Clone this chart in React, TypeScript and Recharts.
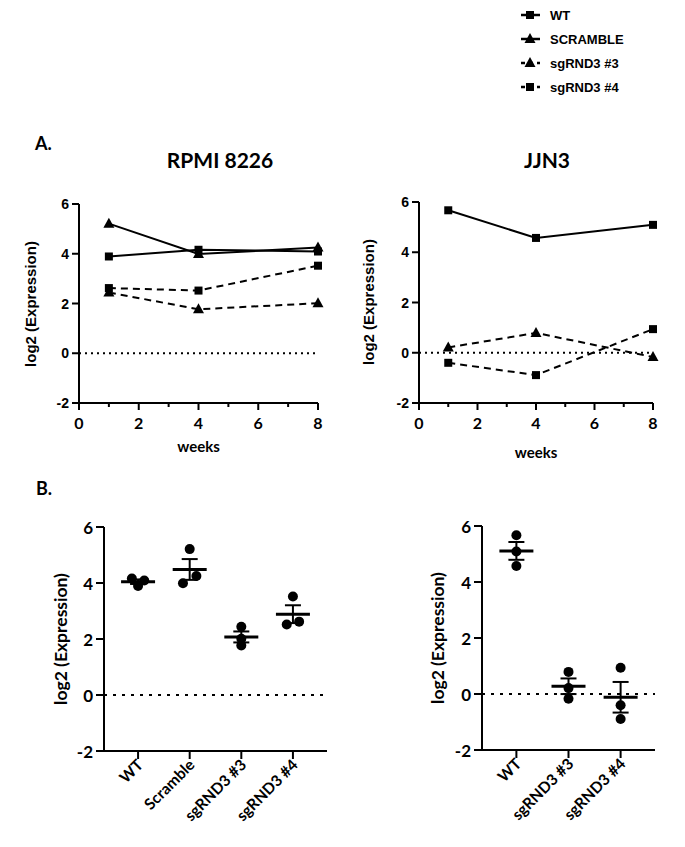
import React from "react"
import { LineChart, Line, XAxis, YAxis, ReferenceLine, ScatterChart, Scatter, ErrorBar } from "recharts"

const WEEKS = [1, 4, 8]
const RPMI_WT = [3.89, 4.16, 4.09]
const RPMI_SCRAMBLE = [5.21, 3.99, 4.25]
const RPMI_SG3 = [2.44, 1.77, 2.01]
const RPMI_SG4 = [2.62, 2.52, 3.52]
const JJN3_WT = [5.67, 4.57, 5.09]
const JJN3_SG3 = [0.21, 0.79, -0.17]
const JJN3_SG4 = [-0.4, -0.89, 0.94]

const Y_TICKS = [-2, 0, 2, 4, 6]
const WEEK_TICKS = [0, 1, 2, 3, 4, 5, 6, 7, 8]
const RPMI_GROUPS = ["WT", "Scramble", "sgRND3 #3", "sgRND3 #4"]
const JJN3_GROUPS = ["WT", "sgRND3 #3", "sgRND3 #4"]
const LEGEND_NAMES = ["WT", "SCRAMBLE", "sgRND3 #3", "sgRND3 #4"]

// horizontal spread of the replicate dots (in category units), layout only
const RPMI_JITTER = [[0, -0.12, 0.12], [0, -0.13, 0.13], [0, 0, 0], [0.12, -0.12, 0]]
const JJN3_JITTER = [[0, 0, 0], [0, 0, 0], [0, 0, 0]]

const ARIAL = "'Liberation Sans', Arial, sans-serif"
const CALIBRI = "Lato, 'Open Sans', sans-serif"
const DASH = "7 5"

const rpmiRows = WEEKS.map((w, i) => ({ week: w, wt: RPMI_WT[i], scr: RPMI_SCRAMBLE[i], sg3: RPMI_SG3[i], sg4: RPMI_SG4[i] }))
const jjn3Rows = WEEKS.map((w, i) => ({ week: w, wt: JJN3_WT[i], sg3: JJN3_SG3[i], sg4: JJN3_SG4[i] }))

const mean = (a: number[]) => a.reduce((s, v) => s + v, 0) / a.length
const sem = (a: number[]) => {
  const m = mean(a)
  const sd = Math.sqrt(a.reduce((s, v) => s + (v - m) ** 2, 0) / (a.length - 1))
  return sd / Math.sqrt(a.length)
}

function buildGroups(groups: number[][], jitter: number[][]) {
  const points = groups.flatMap((vals, g) => vals.map((v, i) => ({ x: g + jitter[g][i], y: v })))
  const means = groups.map((vals, g) => ({ x: g, y: mean(vals), err: sem(vals) }))
  return { points, means }
}

const rpmiB = buildGroups([RPMI_WT, RPMI_SCRAMBLE, RPMI_SG3, RPMI_SG4], RPMI_JITTER)
const jjn3B = buildGroups([JJN3_WT, JJN3_SG3, JJN3_SG4], JJN3_JITTER)

const Square = ({ cx, cy }: any) => <rect x={cx - 4} y={cy - 4} width={8} height={8} fill="#000" />
const Triangle = ({ cx, cy }: any) => <polygon points={`${cx},${cy - 6} ${cx + 5.5},${cy + 4} ${cx - 5.5},${cy + 4}`} fill="#000" />

const squareDot = (p: any) => <Square key={`s${p.index}`} cx={p.cx} cy={p.cy} />
const triDot = (p: any) => <Triangle key={`t${p.index}`} cx={p.cx} cy={p.cy} />

function WeekTick({ x, y, payload }: any) {
  const v = payload.value
  const major = v % 2 === 0
  return (
    <g>
      <line x1={x} x2={x} y1={y} y2={y + (major ? 7 : 4)} stroke="#000" strokeWidth={2} />
      {major && (
        <text x={x} y={y + 19} textAnchor="middle" dominantBaseline="central" fontFamily={CALIBRI} fontWeight={700} fontSize={16} fill="#000">
          {v}
        </text>
      )}
    </g>
  )
}

function ValueTick({ x, y, payload, len = 7, size = 14, font = ARIAL }: any) {
  return (
    <g>
      <line x1={x - len} x2={x} y1={y} y2={y} stroke="#000" strokeWidth={2} />
      <text x={x - len - 3} y={y} textAnchor="end" dominantBaseline="central" fontFamily={font} fontWeight={700} fontSize={size} fill="#000">
        {payload.value}
      </text>
    </g>
  )
}

const groupTick = (names: string[]) => ({ x, y, payload }: any) => {
  const ax = x + 6
  const ay = y + 15
  return (
    <g>
      <line x1={x} x2={x} y1={y} y2={y + 8} stroke="#000" strokeWidth={2} />
      <text x={ax} y={ay} textAnchor="end" transform={`rotate(-45 ${ax} ${ay})`} fontFamily={CALIBRI} fontWeight={700} fontSize={15.5} fill="#000">
        {names[payload.value]}
      </text>
    </g>
  )
}

const YLabel = ({ lx, cy, size, font }: any) => (
  <text x={lx} y={cy} transform={`rotate(-90 ${lx} ${cy})`} textAnchor="middle" dominantBaseline="central" fontFamily={font} fontWeight={700} fontSize={size} fill="#000">
    log2 (Expression)
  </text>
)

const meanShape = (p: any) => <line x1={p.cx - 17} x2={p.cx + 17} y1={p.cy} y2={p.cy} stroke="#000" strokeWidth={3} />
const dotShape = (p: any) => <circle cx={p.cx} cy={p.cy} r={5} fill="#000" />

const axisStyle = { stroke: "#000", strokeWidth: 2 }

function TimePanel({ rows, left, right, top, labelX, showScramble }: any) {
  return (
    <div style={{ position: "absolute", left, top: 180 }}>
      <LineChart width={340} height={280} data={rows} margin={{ top, right, bottom: 0, left: 0 }}>
        <XAxis
          dataKey="week"
          type="number"
          domain={[0, 8]}
          ticks={WEEK_TICKS}
          interval={0}
          height={57}
          axisLine={axisStyle}
          tickLine={false}
          tickSize={0}
          tickMargin={0}
          tick={<WeekTick />}
          label={{ value: "weeks", position: "insideBottom", offset: left > 0 ? 2 : 8, fontFamily: CALIBRI, fontWeight: 700, fontSize: 15, fill: "#000" }}
        />
        <YAxis
          type="number"
          domain={[-2, 6]}
          ticks={Y_TICKS}
          width={79}
          axisLine={axisStyle}
          tickLine={false}
          tickSize={0}
          tickMargin={0}
          tick={<ValueTick />}
          label={<YLabel lx={labelX} cy={top + 100} size={15} font={ARIAL} />}
        />
        <ReferenceLine y={0} stroke="#000" strokeWidth={2} strokeDasharray="2 4" />
        <Line dataKey="wt" stroke="#000" strokeWidth={2} dot={squareDot} isAnimationActive={false} />
        {showScramble && <Line dataKey="scr" stroke="#000" strokeWidth={2} dot={triDot} isAnimationActive={false} />}
        <Line dataKey="sg3" stroke="#000" strokeWidth={2} strokeDasharray={DASH} dot={triDot} isAnimationActive={false} />
        <Line dataKey="sg4" stroke="#000" strokeWidth={2} strokeDasharray={DASH} dot={squareDot} isAnimationActive={false} />
      </LineChart>
    </div>
  )
}

function GroupPanel({ data, names, left, yWidth, right, top, xMax, labelX }: any) {
  return (
    <div style={{ position: "absolute", left, top: 500 }}>
      <ScatterChart width={340} height={340} margin={{ top, right, bottom: 0, left: 0 }}>
        <XAxis
          dataKey="x"
          type="number"
          domain={[-0.66, xMax]}
          ticks={names.map((_: string, i: number) => i)}
          interval={0}
          height={340 - top - 224}
          axisLine={axisStyle}
          tickLine={false}
          tickSize={0}
          tickMargin={0}
          tick={groupTick(names)}
        />
        <YAxis
          dataKey="y"
          type="number"
          domain={[-2, 6]}
          ticks={Y_TICKS}
          width={yWidth}
          axisLine={axisStyle}
          tickLine={false}
          tickSize={0}
          tickMargin={0}
          tick={<ValueTick len={8} size={17} font={CALIBRI} />}
          label={<YLabel lx={labelX} cy={top + 112} size={17.5} font={CALIBRI} />}
        />
        <ReferenceLine y={0} stroke="#000" strokeWidth={2} strokeDasharray="3 6" />
        <Scatter data={data.points} shape={dotShape} isAnimationActive={false} />
        <Scatter data={data.means} shape={meanShape} isAnimationActive={false}>
          <ErrorBar dataKey="err" direction="y" width={8} stroke="#000" strokeWidth={2} />
        </Scatter>
      </ScatterChart>
    </div>
  )
}

function Legend() {
  return (
    <g>
      {LEGEND_NAMES.map((name, i) => {
        const y = 15 + i * 24
        const dashed = i >= 2
        const tri = i === 1 || i === 2
        return (
          <g key={name}>
            <line x1={521} x2={540} y1={y} y2={y} stroke="#000" strokeWidth={2.5} strokeDasharray={dashed ? "4 4" : undefined} />
            {tri ? <Triangle cx={530} cy={y} /> : <Square cx={530} cy={y} />}
            <text x={550} y={y} dominantBaseline="central" fontFamily={ARIAL} fontWeight={700} fontSize={13} fill="#000">
              {name}
            </text>
          </g>
        )
      })}
    </g>
  )
}

export default function App() {
  return (
    <div style={{ position: "absolute", left: 0, top: 0, width: 685, height: 847, background: "#fff", overflow: "hidden" }}>
      <svg width={685} height={847} style={{ position: "absolute", left: 0, top: 0 }}>
        <Legend />
        <text x={35} y={150} fontFamily={CALIBRI} fontWeight={700} fontSize={18} fill="#000">A.</text>
        <text x={220} y={168} textAnchor="middle" fontFamily={CALIBRI} fontWeight={700} fontSize={21} fill="#000">RPMI 8226</text>
        <text x={547} y={168} textAnchor="middle" fontFamily={CALIBRI} fontWeight={700} fontSize={21} fill="#000">JJN3</text>
        <text x={36} y={495} fontFamily={CALIBRI} fontWeight={700} fontSize={18} fill="#000">B.</text>
      </svg>
      <TimePanel rows={rpmiRows} left={0} right={22} top={24} labelX={30} showScramble />
      <TimePanel rows={jjn3Rows} left={340} right={27} top={22} labelX={28} showScramble={false} />
      <GroupPanel data={rpmiB} names={RPMI_GROUPS} left={0} yWidth={104} right={13} top={27} xMax={3.66} labelX={60} />
      <GroupPanel data={jjn3B} names={JJN3_GROUPS} left={340} yWidth={142} right={25} top={26} xMax={2.66} labelX={97} />
    </div>
  )
}
